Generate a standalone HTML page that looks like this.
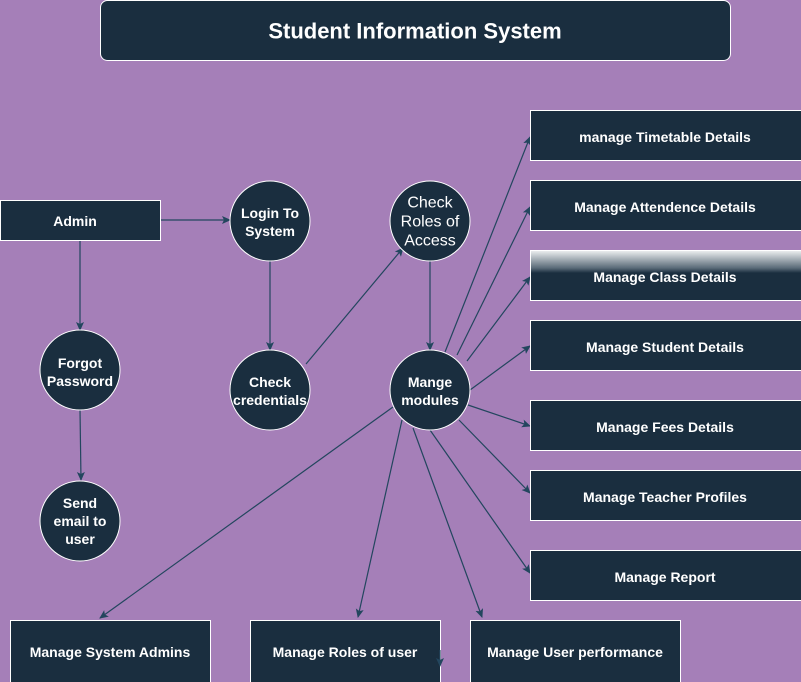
<!DOCTYPE html>
<html><head><meta charset="utf-8"><style>
html,body{margin:0;padding:0;background:#a57fb8;}
svg{display:block;}
text{font-family:"Liberation Sans",Arial,sans-serif;fill:#fff;text-anchor:middle;dominant-baseline:middle;}
.b{font-weight:bold;font-size:14px;}
</style></head><body>
<svg width="801" height="682" viewBox="0 0 801 682" xmlns="http://www.w3.org/2000/svg">
<defs>
<marker id="a" markerWidth="10" markerHeight="10" refX="8" refY="5" orient="auto" markerUnits="userSpaceOnUse">
<path d="M0,1 L9,5 L0,9 L2,5 Z" fill="#23465e"/></marker>
<linearGradient id="g" x1="0" y1="0" x2="0" y2="1">
<stop offset="0" stop-color="#eef0f1"/><stop offset="0.35" stop-color="#5a6b78"/><stop offset="0.45" stop-color="#1a2e3f"/><stop offset="1" stop-color="#1a2e3f"/></linearGradient>
</defs>
<rect width="801" height="682" fill="#a57fb8"/>
<rect x="100.5" y="0.5" width="630" height="60" rx="7" fill="#1a2e3f" stroke="#fff"/>
<g transform="translate(0,1.5)">
<text x="415" y="31" style="font-weight:bold;font-size:22px">Student Information System</text>
</g>

<g stroke="#23465e" stroke-width="1.2" fill="none" marker-end="url(#a)">
<line x1="160" y1="220" x2="230" y2="220"/>
<line x1="80" y1="240" x2="80" y2="330"/>
<line x1="80" y1="410" x2="81" y2="480"/>
<line x1="270" y1="261" x2="270" y2="350"/>
<line x1="306" y1="364" x2="403" y2="248"/>
<line x1="430" y1="261" x2="430" y2="350"/>
<line x1="445" y1="352" x2="530" y2="137"/>
<line x1="457" y1="355" x2="530" y2="207"/>
<line x1="467" y1="361" x2="530" y2="277"/>
<line x1="470" y1="390" x2="530" y2="346"/>
<line x1="468" y1="405" x2="530" y2="426"/>
<line x1="459" y1="420" x2="530" y2="493"/>
<line x1="430" y1="430" x2="530" y2="573"/>
<line x1="393" y1="407" x2="100" y2="618"/>
<line x1="402" y1="420" x2="358" y2="617"/>
<line x1="413" y1="428" x2="482" y2="617"/>
</g>

<g stroke="#fff" stroke-width="1">
<rect x="0.5" y="200.5" width="160" height="40" fill="#1a2e3f"/>
<rect x="530.5" y="110.5" width="272" height="50" fill="#1a2e3f"/>
<rect x="530.5" y="180.5" width="272" height="50" fill="#1a2e3f"/>
<rect x="530.5" y="250.5" width="272" height="50" fill="url(#g)"/>
<rect x="530.5" y="320.5" width="272" height="50" fill="#1a2e3f"/>
<rect x="530.5" y="400.5" width="272" height="50" fill="#1a2e3f"/>
<rect x="530.5" y="470.5" width="272" height="50" fill="#1a2e3f"/>
<rect x="530.5" y="550.5" width="272" height="50" fill="#1a2e3f"/>
<rect x="10.5" y="620.5" width="200" height="65" fill="#1a2e3f"/>
<rect x="250.5" y="620.5" width="190" height="65" fill="#1a2e3f"/>
<rect x="470.5" y="620.5" width="210" height="65" fill="#1a2e3f"/>
<circle cx="270" cy="221" r="40" fill="#1a2e3f"/>
<circle cx="430" cy="221" r="40" fill="#1a2e3f"/>
<circle cx="80" cy="370" r="40" fill="#1a2e3f"/>
<circle cx="270" cy="390" r="40" fill="#1a2e3f"/>
<circle cx="430" cy="390" r="40" fill="#1a2e3f"/>
<circle cx="80" cy="521" r="40" fill="#1a2e3f"/>
</g>
<g stroke="#23465e" stroke-width="1.2" fill="none" marker-end="url(#a)">
<line x1="440" y1="650" x2="440" y2="666"/>
</g>

<g transform="translate(0,1.5)">
<text class="b" x="75" y="221">Admin</text>
<text class="b" x="270" y="213">Login To</text>
<text class="b" x="270" y="231">System</text>
<text x="430" y="202" style="font-size:16px">Check</text>
<text x="430" y="221" style="font-size:16px">Roles of</text>
<text x="430" y="240" style="font-size:16px">Access</text>
<text class="b" x="80" y="363">Forgot</text>
<text class="b" x="80" y="381">Password</text>
<text class="b" x="270" y="382">Check</text>
<text class="b" x="270" y="400">credentials</text>
<text class="b" x="430" y="382">Mange</text>
<text class="b" x="430" y="400">modules</text>
<text class="b" x="80" y="503">Send</text>
<text class="b" x="80" y="521">email to</text>
<text class="b" x="80" y="539">user</text>

<text class="b" x="665" y="137">manage Timetable Details</text>
<text class="b" x="665" y="207">Manage Attendence Details</text>
<text class="b" x="665" y="277">Manage Class Details</text>
<text class="b" x="665" y="347">Manage Student Details</text>
<text class="b" x="665" y="427">Manage Fees Details</text>
<text class="b" x="665" y="497">Manage Teacher Profiles</text>
<text class="b" x="665" y="577">Manage Report</text>
<text class="b" x="110" y="652">Manage System Admins</text>
<text class="b" x="345" y="652">Manage Roles of user</text>
<text class="b" x="575" y="652">Manage User performance</text>
</g>
</svg>
</body></html>
